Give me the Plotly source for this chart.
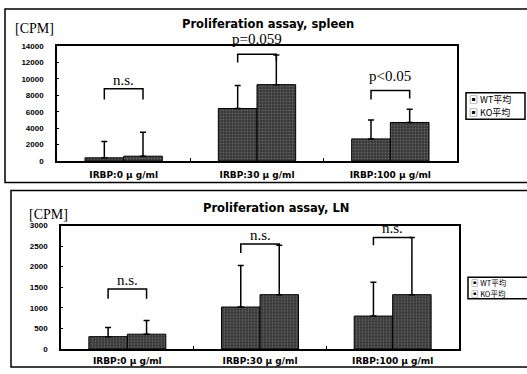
import plotly.graph_objects as go

# ---------------- data ----------------
categories = ["IRBP:0 μ g/ml", "IRBP:30 μ g/ml", "IRBP:100 μ g/ml"]
series_names = ["WT平均", "KO平均"]

spleen_wt = [400, 6400, 2700]
spleen_wt_err = [2000, 2800, 2300]
spleen_ko = [600, 9300, 4700]
spleen_ko_err = [2900, 3600, 1600]

ln_wt = [300, 1020, 800]
ln_wt_err = [220, 1010, 820]
ln_ko = [360, 1320, 1320]
ln_ko_err = [330, 1200, 1390]

# significance labels and bracket levels (top, left arm end, right arm end)
spleen_sig = ["n.s.", "p=0.059", "p<0.05"]
spleen_sig_y = [9850, 14830, 10300]
spleen_bracket = [(8800, 7500, 7500), (13000, 12000, 12200), (8600, 7500, 7600)]

ln_sig = ["n.s.", "n.s.", "n.s."]
ln_sig_y = [1670, 2760, 2930]
ln_bracket = [(1460, 1220, 1220), (2550, 2330, 2520), (2710, 2520, 2710)]

W, H = 527, 374
BARGAP = 0.42


def px(x):
    return x / W


def py(y):
    return 1 - y / H


bar_marker = dict(
    color="#4a4a4a",
    line=dict(color="black", width=1),
    pattern=dict(shape=".", fgcolor="#8c8c8c", bgcolor="#383838", size=3, solidity=0.3),
)

fig = go.Figure()

for (wt, wte, ko, koe, xa, ya) in [
    (spleen_wt, spleen_wt_err, spleen_ko, spleen_ko_err, "x", "y"),
    (ln_wt, ln_wt_err, ln_ko, ln_ko_err, "x2", "y2"),
]:
    for name, vals, errs in [(series_names[0], wt, wte), (series_names[1], ko, koe)]:
        fig.add_trace(go.Bar(
            x=categories, y=vals, name=name, xaxis=xa, yaxis=ya,
            marker=bar_marker, showlegend=False,
            error_y=dict(type="data", symmetric=False, array=errs,
                         arrayminus=[0] * len(errs), color="black",
                         thickness=1.5, width=3),
        ))

serif = "Liberation Serif"
sans_b = dict(family="DejaVu Sans", size=9, color="black", weight="bold")
tick_y = dict(family="Liberation Sans", size=8, color="black", weight="bold")

axis_common = dict(showline=True, mirror=True, linecolor="black", linewidth=1.5,
                   showgrid=False, zeroline=False)

fig.update_layout(
    width=W, height=H, margin=dict(l=0, r=0, t=0, b=0),
    paper_bgcolor="white", plot_bgcolor="white",
    barmode="group", bargap=BARGAP, bargroupgap=0,
    xaxis=dict(domain=[px(57), px(457)], anchor="y", type="category",
               tickson="boundaries", ticks="inside", ticklen=3, tickcolor="black",
               tickfont=sans_b, ticklabelstandoff=4, **axis_common),
    yaxis=dict(domain=[py(161), py(43)], anchor="x", range=[0, 14000], dtick=2000,
               tickformat="d",
               ticks="inside", ticklen=2, tickcolor="black", tickfont=tick_y,
               ticklabelstandoff=10, **axis_common),
    xaxis2=dict(domain=[px(61), px(459)], anchor="y2", type="category",
                tickson="boundaries", ticks="inside", ticklen=3, tickcolor="black",
                tickfont=sans_b, ticklabelstandoff=2, **axis_common),
    yaxis2=dict(domain=[py(353.5), py(227)], anchor="x2", range=[0, 3000], dtick=500,
                tickformat="d",
                ticks="inside", ticklen=2, tickcolor="black", tickfont=tick_y,
                ticklabelstandoff=10, **axis_common),
)

half = (1 - BARGAP) / 4
shapes = []
annotations = []
CENTER = dict(xanchor="center", yanchor="middle", showarrow=False)

panels = [
    (spleen_sig, spleen_sig_y, spleen_bracket, "x", "y", (161, 43), 14000),
    (ln_sig, ln_sig_y, ln_bracket, "x2", "y2", (353.5, 227), 3000),
]
for sig, sig_y, brk, xr, yr, (pb, pt), ymax in panels:
    for i in range(len(categories)):
        top, la, ra = brk[i]
        x0, x1 = i - half, i + half
        shapes.append(dict(type="path", xref=xr, yref=yr,
                           path=f"M {x0},{la} L {x0},{top} L {x1},{top} L {x1},{ra}",
                           line=dict(color="black", width=1.5)))
        # convert the label level to paper units so labels above the axis range still show
        ypix = pb - (pb - pt) * sig_y[i] / ymax
        annotations.append(dict(x=i, y=py(ypix), xref=xr, yref="paper", text=sig[i],
                                font=dict(family=serif, size=15, color="black"), **CENTER))

# outer frames
shapes.append(dict(type="rect", xref="paper", yref="paper",
                   x0=px(5), x1=px(530), y0=py(183), y1=py(5),
                   line=dict(color="black", width=1.5)))
shapes.append(dict(type="rect", xref="paper", yref="paper",
                   x0=px(11), x1=px(530), y0=py(372), y1=py(191),
                   line=dict(color="black", width=1.5)))

# legend boxes
shapes.append(dict(type="rect", xref="paper", yref="paper",
                   x0=px(466), x1=px(525), y0=py(118), y1=py(91),
                   line=dict(color="black", width=1.5)))
shapes.append(dict(type="rect", xref="paper", yref="paper",
                   x0=px(468), x1=px(530), y0=py(302), y1=py(280),
                   line=dict(color="black", width=1.5)))

# titles and axis unit labels
annotations += [
    dict(x=px(268), y=py(20), xref="paper", yref="paper",
         text="Proliferation assay, spleen",
         font=dict(family="DejaVu Sans", size=11.5, color="black", weight="bold"), **CENTER),
    dict(x=px(276), y=py(209), xref="paper", yref="paper",
         text="Proliferation assay, LN",
         font=dict(family="DejaVu Sans", size=11.5, color="black", weight="bold"), **CENTER),
    dict(x=px(34), y=py(25), xref="paper", yref="paper",
         text="[CPM]", font=dict(family=serif, size=14, color="black"), **CENTER),
    dict(x=px(48), y=py(216), xref="paper", yref="paper",
         text="[CPM]", font=dict(family=serif, size=14, color="black"), **CENTER),
]

# legend entries (one text per row)
for rows_y, x_left, fsize in [((97.8, 111.5), 468, 9), ((285.5, 296.8), 470, 7.5)]:
    for name, ry in zip(series_names, rows_y):
        annotations.append(dict(x=px(x_left), y=py(ry), xref="paper", yref="paper",
                                showarrow=False, xanchor="left", yanchor="middle",
                                borderpad=0,
                                text="▣ " + name,
                                font=dict(family="Noto Sans CJK JP", size=fsize, color="black")))

fig.update_layout(shapes=shapes, annotations=annotations)
fig.write_html("out.html", config={"displayModeBar": False},
               post_script="document.body.style.margin='0';document.body.style.overflow='hidden';")
